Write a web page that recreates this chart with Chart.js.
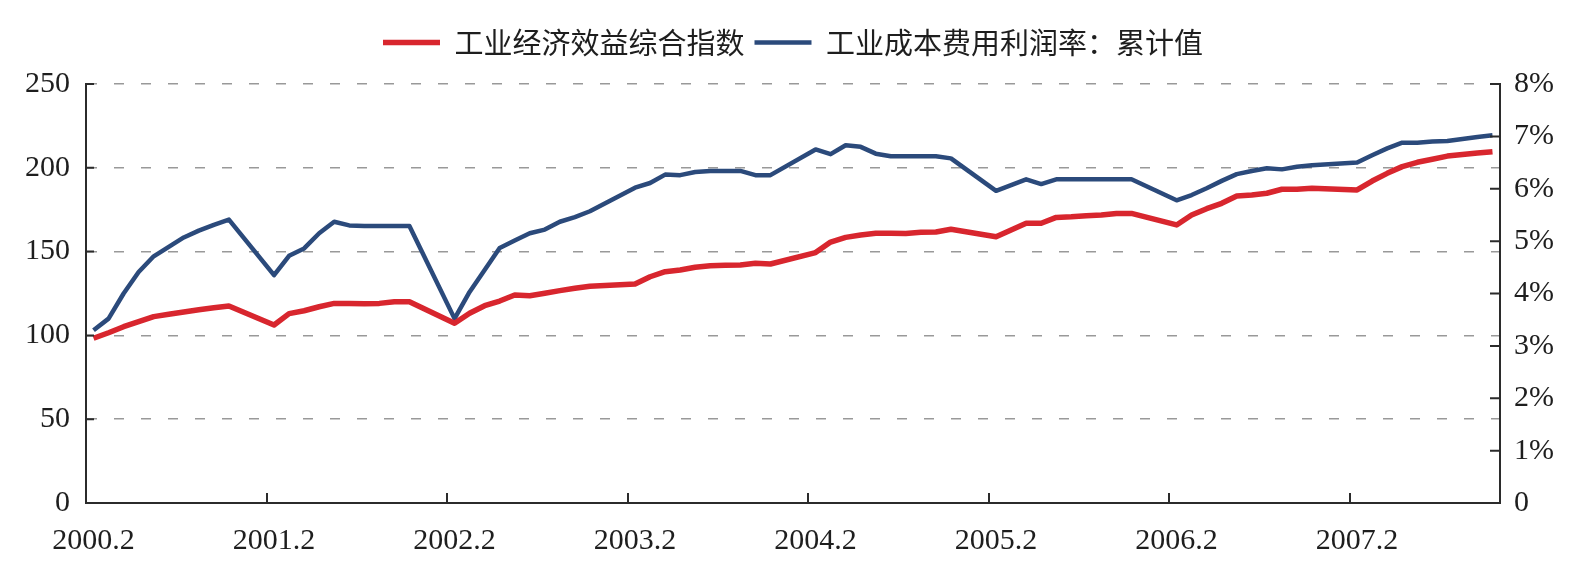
<!DOCTYPE html>
<html lang="zh-CN">
<head>
<meta charset="UTF-8">
<title>工业经济效益综合指数与工业成本费用利润率</title>
<script src="https://cdn.jsdelivr.net/npm/chart.js"></script>
<style>
  html, body { margin: 0; padding: 0; background: #fff; }
  .wrap { width: 1586px; height: 576px; }
</style>
</head>
<body>
<div class="wrap"><canvas id="chart" width="1586" height="576"></canvas></div>
<script>
// 月度数据 2000.2 - 2007.11，每年1月和12月没有数据（null，连线跨过）
const years = [2000, 2001, 2002, 2003, 2004, 2005, 2006, 2007];
const firstMonth = 2;
const lastMonth = 11;

const categories = [];
years.forEach(y => {
  for (let m = 1; m <= 12; m++) {
    if (y === years[0] && m < firstMonth) continue;
    if (y === years[years.length - 1] && m > lastMonth) continue;
    categories.push(y + '.' + m);
  }
});

// 横轴只标每年2月
const tickLabels = years.map(y => y + '.2');

// 工业经济效益综合指数（左轴）
const benefitIndex = [
  98.3, 101.6, 105.2, 108.2, 111.2, 112.6, 114.0, 115.3, 116.5, 117.5, null,
  null, 106.2, 113.0, 114.7, 117.1, 119.1, 119.1, 118.9, 119.1, 120.1, 120.1, null,
  null, 107.2, 113.2, 117.7, 120.5, 124.1, 123.7, 125.1, 126.7, 128.1, 129.3, null,
  null, 130.7, 135.0, 138.0, 139.0, 140.7, 141.6, 141.8, 142.0, 143.0, 142.6, null,
  null, 149.4, 155.7, 158.5, 159.9, 160.9, 160.9, 160.8, 161.5, 161.7, 163.3, null,
  null, 158.9, 162.9, 166.9, 166.9, 170.4, 170.8, 171.4, 171.8, 172.7, 172.8, null,
  null, 165.9, 171.8, 175.6, 178.8, 183.2, 183.8, 184.8, 187.2, 187.2, 187.8, null,
  null, 186.8, 192.1, 196.7, 200.7, 203.3, 205.1, 207.0, 208.0, 208.8, 209.6
];

// 工业成本费用利润率：累计值（右轴，%）
const profitRate = [
  3.30, 3.52, 4.00, 4.41, 4.71, 4.89, 5.07, 5.20, 5.31, 5.41, null,
  null, 4.35, 4.72, 4.86, 5.15, 5.37, 5.30, 5.29, 5.29, 5.29, 5.29, null,
  null, 3.52, 4.03, 4.45, 4.87, 5.01, 5.15, 5.22, 5.37, 5.46, 5.57, null,
  null, 6.02, 6.11, 6.27, 6.26, 6.32, 6.34, 6.34, 6.34, 6.26, 6.26, null,
  null, 6.75, 6.66, 6.83, 6.80, 6.67, 6.62, 6.62, 6.62, 6.62, 6.58, null,
  null, 5.96, 6.07, 6.18, 6.09, 6.18, 6.18, 6.18, 6.18, 6.18, 6.18, null,
  null, 5.78, 5.88, 6.01, 6.15, 6.28, 6.34, 6.39, 6.37, 6.42, 6.45, null,
  null, 6.50, 6.64, 6.77, 6.88, 6.88, 6.90, 6.91, 6.95, 6.99, 7.02
];

const axisColor = '#2b2b2b';
const textColor = '#1e1e1e';
const serif = { family: '"Liberation Serif", "Times New Roman", serif', size: 30 };

// 图例下面多留一点空
const legendSpacing = {
  id: 'legendSpacing',
  beforeInit(chart) {
    const origFit = chart.legend.fit;
    chart.legend.fit = function () {
      origFit.call(this);
      this.height += 17;
    };
  }
};

// 刻度线朝里画
const innerTicks = {
  id: 'innerTicks',
  afterDatasetsDraw(chart) {
    const { ctx, scales: { x, y, y1 } } = chart;
    const half = (x.getPixelForValue(1) - x.getPixelForValue(0)) / 2;
    ctx.save();
    ctx.strokeStyle = axisColor;
    ctx.lineWidth = 2;
    ctx.beginPath();
    categories.forEach((c, i) => {
      if (i > 0 && tickLabels.includes(c)) {
        const px = Math.round(x.getPixelForValue(i) - half);
        ctx.moveTo(px, x.top);
        ctx.lineTo(px, x.top - 10);
      }
    });
    y.ticks.forEach(t => {
      if (t.value > 0) {
        const py = y.getPixelForValue(t.value);
        ctx.moveTo(y.right, py);
        ctx.lineTo(y.right + 8, py);
      }
    });
    y1.ticks.forEach(t => {
      if (t.value > 0) {
        const py = y1.getPixelForValue(t.value);
        ctx.moveTo(y1.left, py);
        ctx.lineTo(y1.left - 10, py);
      }
    });
    ctx.stroke();
    ctx.restore();
  }
};

const ctx = document.getElementById('chart');

new Chart(ctx, {
  type: 'line',
  data: {
    labels: categories,
    datasets: [
      {
        label: '工业经济效益综合指数',
        data: benefitIndex,
        yAxisID: 'y',
        borderColor: '#d8262e',
        backgroundColor: '#d8262e',
        borderWidth: 5.5
      },
      {
        label: '工业成本费用利润率：累计值',
        data: profitRate,
        yAxisID: 'y1',
        borderColor: '#2b4a7b',
        backgroundColor: '#2b4a7b',
        borderWidth: 4.5
      }
    ]
  },
  options: {
    responsive: false,
    animation: false,
    spanGaps: true,
    elements: {
      point: { radius: 0 },
      line: { tension: 0, borderJoinStyle: 'round' }
    },
    layout: { padding: { top: 18, left: 0, right: 0, bottom: 0 } },
    plugins: {
      legend: {
        labels: {
          usePointStyle: true,
          pointStyle: 'line',
          pointStyleWidth: 57,
          padding: 10,
          color: textColor,
          font: { family: '"Noto Sans CJK SC", sans-serif', size: 29 }
        }
      },
      tooltip: { enabled: false }
    },
    scales: {
      x: {
        type: 'category',
        offset: true,
        grid: { display: false, drawTicks: false },
        border: { display: true, color: axisColor, width: 2 },
        ticks: {
          autoSkip: false,
          maxRotation: 0,
          padding: 20,
          color: textColor,
          font: serif,
          callback: function (value) {
            const l = this.getLabelForValue(value);
            return tickLabels.includes(l) ? l : '';
          }
        },
        afterFit: s => { s.height = 73; }
      },
      y: {
        position: 'left',
        min: 0,
        max: 250,
        ticks: { stepSize: 50, padding: 16, color: textColor, font: serif },
        grid: {
          drawTicks: false,
          lineWidth: 1.5,
          color: c => (c.tick && c.tick.value === 0 ? 'rgba(0,0,0,0)' : '#999999')
        },
        border: { color: axisColor, width: 2, dash: [10, 17] },
        afterFit: s => { s.width = 86; }
      },
      y1: {
        position: 'right',
        min: 0,
        max: 8,
        ticks: {
          stepSize: 1,
          padding: 14,
          color: textColor,
          font: serif,
          callback: v => (v === 0 ? '0' : v + '%')
        },
        grid: { drawOnChartArea: false, drawTicks: false },
        border: { color: axisColor, width: 2 },
        afterFit: s => { s.width = 86; }
      }
    }
  },
  plugins: [legendSpacing, innerTicks]
});
</script>
</body>
</html>
